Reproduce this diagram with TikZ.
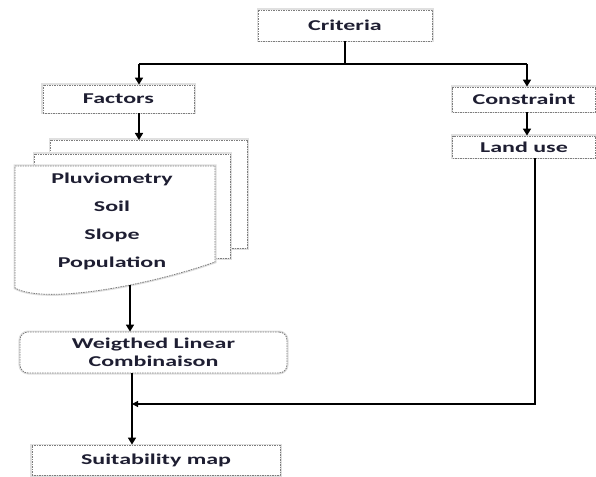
\documentclass[tikz,border=0pt]{standalone}
\usepackage{fontspec}
\setmainfont{Carlito}
\usetikzlibrary{arrows.meta}
\definecolor{txt}{RGB}{30,30,50}
\definecolor{bord}{RGB}{125,125,125}
\newcommand{\wide}[1]{\scalebox{1.6}[1]{#1}}
\tikzset{
 box/.style={draw=bord, dash pattern=on 1.5bp off 1bp, line width=0.8bp, fill=white,
   preaction={draw=black!12, line width=3bp, solid}, inner sep=0pt, text=txt,
   font=\fontsize{15bp}{18bp}\selectfont\bfseries},
 page/.style={draw=bord, dash pattern=on 1.5bp off 1bp, line width=0.8bp, fill=white,
   preaction={draw=black!12, line width=3bp, solid}},
 arr/.style={draw=black, line width=1.6bp, -{Triangle[length=7bp,width=8bp]}},
 thinarr/.style={draw=black, line width=1.2bp, -{Triangle[length=6bp,width=6bp]}},
 ln/.style={draw=black, line width=1.6bp},
}
\begin{document}
\begin{tikzpicture}[x=1bp,y=-1bp]
\useasboundingbox (0,0) rectangle (596,477);
% boxes
\node[box, minimum width=174bp, minimum height=31bp] (crit) at (345,25.5) {\wide{Criteria}};
\node[box, minimum width=151bp, minimum height=28bp] (fac) at (118.5,99) {\wide{Factors}};
\node[box, minimum width=143bp, minimum height=25bp] (con) at (524,99.5) {\wide{Constraint}};
\node[box, minimum width=143bp, minimum height=22bp] (lu) at (524,147) {\wide{Land use}};
\node[box, rounded corners=8bp, minimum width=267bp, minimum height=41bp, align=center] (wlc) at (153.5,352.5)
  {\wide{Weigthed Linear}\\\wide{Combinaison}};
\node[box, minimum width=248bp, minimum height=30bp] (suit) at (156,460) {\wide{Suitability map}};
% document stack
\draw[page] (50,140) rectangle (247,248);
\draw[page] (34,154) rectangle (230,258);
\draw[page] (15,166) -- (215,166) -- (215,262) .. controls (150,285) and (45,305) .. (15,288) -- cycle;
\node[text=txt, font=\fontsize{15bp}{28bp}\selectfont\bfseries, align=center] (plist) at (112,221)
  {\wide{Pluviometry}\\\wide{Soil}\\\wide{Slope}\\\wide{Population}};
% coordinates
\coordinate (j) at (345,64);
\coordinate (jl) at (139,64);
\coordinate (jr) at (527,64);
\coordinate (stop) at (139,140);
\coordinate (sb) at (130,285);
\coordinate (lc) at (535,404);
\coordinate (m) at (132,404);
% connectors
\draw[ln] (crit.south) -- (j);
\draw[ln] (jl) -- (jr);
\draw[arr] (jl) -- (jl |- fac.north);
\draw[arr] (jr) -- (jr |- con.north);
\draw[arr] (fac.south -| jl) -- (stop);
\draw[arr] (con.south -| jr) -- (lu.north -| jr);
\draw[arr] (sb) -- (wlc.north -| sb);
\draw[arr] (wlc.south -| m) -- (suit.north -| m);
\draw[thinarr] (lu.south -| lc) -- (lc) -- (m);
\end{tikzpicture}
\end{document}
